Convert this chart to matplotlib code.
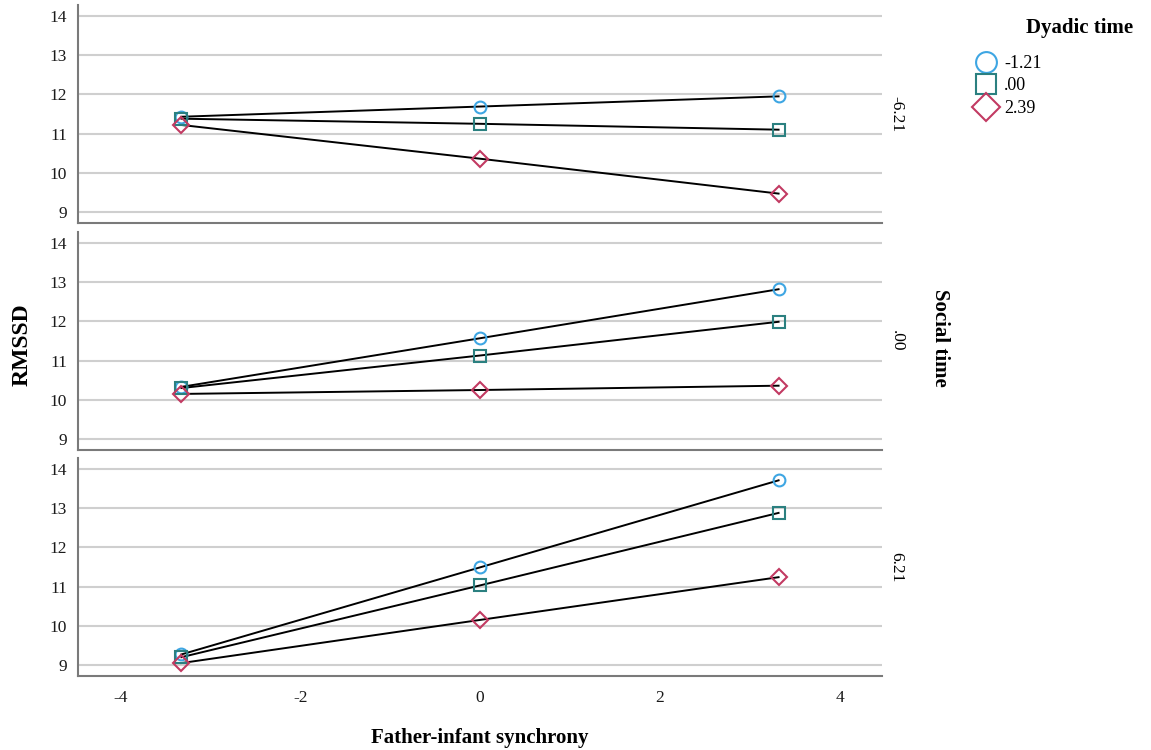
import matplotlib
matplotlib.use("Agg")
import matplotlib.pyplot as plt
from matplotlib.lines import Line2D

plt.rcParams['font.family'] = ['Liberation Serif', 'DejaVu Serif']
plt.rcParams['axes.unicode_minus'] = False

synchrony = [-3.32, 0.0, 3.32]
social_levels = ["-6.21", ".00", "6.21"]
dyadic_levels = ["-1.21", ".00", "2.39"]

# RMSSD values per social-time panel, per dyadic-time series
panel_neg = {
    "-1.21": [11.43, 11.69, 11.95],
    ".00":   [11.38, 11.25, 11.10],
    "2.39":  [11.22, 10.36, 9.47],
}
panel_zero = {
    "-1.21": [10.33, 11.57, 12.82],
    ".00":   [10.30, 11.13, 11.99],
    "2.39":  [10.15, 10.25, 10.36],
}
panel_pos = {
    "-1.21": [9.27, 11.49, 13.71],
    ".00":   [9.20, 11.03, 12.88],
    "2.39":  [9.05, 10.15, 11.24],
}
panels = [panel_neg, panel_zero, panel_pos]

x_ticks = [-4, -2, 0, 2, 4]
y_ticks = [9, 10, 11, 12, 13, 14]

styles = {
    "-1.21": dict(marker='o', color='#3ea6e3', ms=8.5),
    ".00":   dict(marker='s', color='#2b8080', ms=8.5),
    "2.39":  dict(marker='D', color='#c23a62', ms=8.0),
}

W, H = 1151, 750
fig = plt.figure(figsize=(W / 100, H / 100), dpi=100)

left = 78 / W
width = (882 - 78) / W
tops = [5, 232, 458]
ph = 218

for i, (top, data) in enumerate(zip(tops, panels)):
    ax = fig.add_axes([left, 1 - (top + ph) / H, width, ph / H])
    for key in dyadic_levels:
        st = styles[key]
        ax.plot(synchrony, data[key], color='black', lw=1.4, zorder=3)
        ax.plot(synchrony, data[key], ls='none', marker=st['marker'], ms=st['ms'],
                mfc='none', mec=st['color'], mew=1.5, zorder=4)
    ax.set_xlim(-4.47, 4.47)
    ax.set_ylim(8.72, 14.28)
    ax.set_yticks(y_ticks)
    ax.set_xticks(x_ticks)
    ax.grid(axis='y', color='#cfcfcf', lw=1.5, zorder=0)
    ax.set_axisbelow(True)
    for s in ['top', 'right']:
        ax.spines[s].set_visible(False)
    for s in ['left', 'bottom']:
        ax.spines[s].set_color('#7a7a7a')
        ax.spines[s].set_linewidth(1.5)
    ax.tick_params(length=0, labelsize=12.5, pad=8, colors='#1a1a1a')
    if i < 2:
        ax.tick_params(axis='x', labelbottom=False)
    else:
        ax.tick_params(axis='x', pad=10)
    ax.text(1.008, 0.5, social_levels[i], transform=ax.transAxes, rotation=270,
            ha='left', va='center', fontsize=12.5)

fig.text(22 / W, 1 - 345 / H, "RMSSD", rotation=90, ha='center', va='center',
         fontsize=17, fontweight='bold')
fig.text(480 / W, 1 - 738 / H, "Father-infant synchrony", ha='center', va='center',
         fontsize=15, fontweight='bold')
fig.text(940 / W, 1 - 338 / H, "Social time", rotation=270, ha='center', va='center',
         fontsize=15, fontweight='bold')

handles = [Line2D([], [], ls='none', marker=styles[k]['marker'], ms=15 if k != "2.39" else 14,
                  mfc='none', mec=styles[k]['color'], mew=1.5) for k in dyadic_levels]
fig.text(1080 / W, 1 - 28 / H, "Dyadic time", ha='center', va='center',
         fontsize=15, fontweight='bold')
fig.legend(handles, dyadic_levels, loc='upper left', bbox_to_anchor=(968 / W, 1 - 46 / H),
           frameon=False, fontsize=13, handlelength=1.0, handletextpad=0.5,
           labelspacing=0.3, borderpad=0)

fig.savefig("out.png", dpi=100)
